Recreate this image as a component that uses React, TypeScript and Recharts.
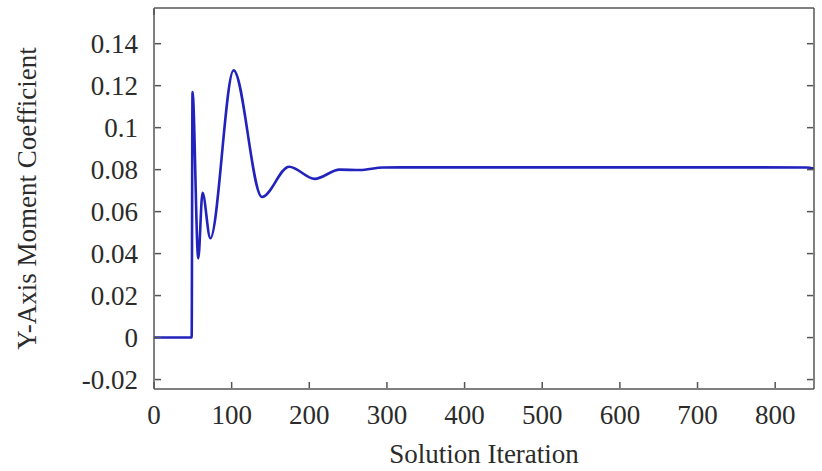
import React from 'react';
import { LineChart, Line, XAxis, YAxis, Label } from 'recharts';

const iterations = [0, 48.5, 49.6, 57, 62.5, 72.5, 102.5, 139, 174, 207, 239, 265, 295, 350, 450, 550, 650, 750, 840, 850];
const momentCoefficients = [0, 0, 0.117, 0.0377, 0.069, 0.0473, 0.1273, 0.067, 0.0814, 0.0756, 0.0800, 0.0798, 0.0810, 0.0811, 0.0811, 0.0811, 0.0811, 0.0811, 0.0810, 0.0805];
const xTicks = [0, 100, 200, 300, 400, 500, 600, 700, 800];
const yTicks = [-0.02, 0, 0.02, 0.04, 0.06, 0.08, 0.1, 0.12, 0.14];
const xDomain = [0, 850];
const yDomain = [-0.0245, 0.157];

const data = iterations.map((it, i) => ({ iteration: it, cm: momentCoefficients[i] }));

const FONT = '"Liberation Serif", "Times New Roman", serif';
const FONT_SIZE = 27;
const TEXT = '#2b2b2b';
const FRAME = '#555555';
const FRAME_LEFT = 155;
const FRAME_RIGHT = 813;
const FRAME_TOP = 9;
const FRAME_BOTTOM = 388;
const TICK = 6;

const BottomTick = (props: any) => (
  <g>
    <line x1={props.x} x2={props.x} y1={FRAME_BOTTOM} y2={FRAME_BOTTOM - TICK} stroke={FRAME} strokeWidth={1.5} />
    <text x={props.x} y={FRAME_BOTTOM + 36} textAnchor="middle" fontFamily={FONT} fontSize={FONT_SIZE} fill={TEXT}>
      {props.payload.value}
    </text>
  </g>
);

const TopTick = (props: any) => (
  <line x1={props.x} x2={props.x} y1={FRAME_TOP} y2={FRAME_TOP + TICK} stroke={FRAME} strokeWidth={1.5} />
);

const LeftTick = (props: any) => (
  <g>
    <line x1={FRAME_LEFT} x2={FRAME_LEFT + TICK} y1={props.y} y2={props.y} stroke={FRAME} strokeWidth={1.5} />
    <text x={138} y={props.y} dy="0.36em" textAnchor="end" fontFamily={FONT} fontSize={FONT_SIZE} fill={TEXT}>
      {props.payload.value}
    </text>
  </g>
);

const RightTick = (props: any) => (
  <line x1={FRAME_RIGHT} x2={FRAME_RIGHT - TICK} y1={props.y} y2={props.y} stroke={FRAME} strokeWidth={1.5} />
);

export default function App() {
  return (
    <div style={{ position: 'absolute', left: 0, top: 0, width: 822, height: 471, background: '#fff' }}>
      <LineChart width={822} height={471} data={data} margin={{ top: 8, right: 8, bottom: 82, left: 154 }}>
        <XAxis
          xAxisId="b"
          dataKey="iteration"
          type="number"
          domain={xDomain}
          ticks={xTicks}
          allowDataOverflow
          height={1}
          mirror
          stroke={FRAME}
          strokeWidth={1.5}
          tickLine={false}
          tick={<BottomTick />}
          interval={0}
        >
          <Label
            content={(p: any) => {
              const vb = p.viewBox || {};
              return (
                <text x={vb.x + vb.width / 2} y={463} textAnchor="middle" fontFamily={FONT} fontSize={FONT_SIZE} fill={TEXT}>
                  Solution Iteration
                </text>
              );
            }}
          />
        </XAxis>
        <XAxis
          xAxisId="t"
          orientation="top"
          type="number"
          domain={xDomain}
          ticks={xTicks}
          allowDataOverflow
          height={1}
          mirror
          stroke={FRAME}
          strokeWidth={1.5}
          tickLine={false}
          tick={<TopTick />}
          interval={0}
        />
        <YAxis
          yAxisId="l"
          type="number"
          domain={yDomain}
          ticks={yTicks}
          allowDataOverflow
          width={1}
          mirror
          stroke={FRAME}
          strokeWidth={1.5}
          tickLine={false}
          tick={<LeftTick />}
          interval={0}
        >
          <Label
            content={(p: any) => {
              const vb = p.viewBox || {};
              const cx = 36;
              const cy = vb.y + vb.height / 2;
              return (
                <text x={cx} y={cy} transform={`rotate(-90 ${cx} ${cy})`} textAnchor="middle" fontFamily={FONT} fontSize={FONT_SIZE} fill={TEXT}>
                  Y-Axis Moment Coefficient
                </text>
              );
            }}
          />
        </YAxis>
        <YAxis
          yAxisId="r"
          orientation="right"
          type="number"
          domain={yDomain}
          ticks={yTicks}
          allowDataOverflow
          width={1}
          mirror
          stroke={FRAME}
          strokeWidth={1.5}
          tickLine={false}
          tick={<RightTick />}
          interval={0}
        />
        <Line
          xAxisId="b"
          yAxisId="l"
          type="monotone"
          dataKey="cm"
          stroke="#2222bd"
          strokeWidth={2.6}
          dot={false}
          activeDot={false}
          isAnimationActive={false}
        />
      </LineChart>
    </div>
  );
}
